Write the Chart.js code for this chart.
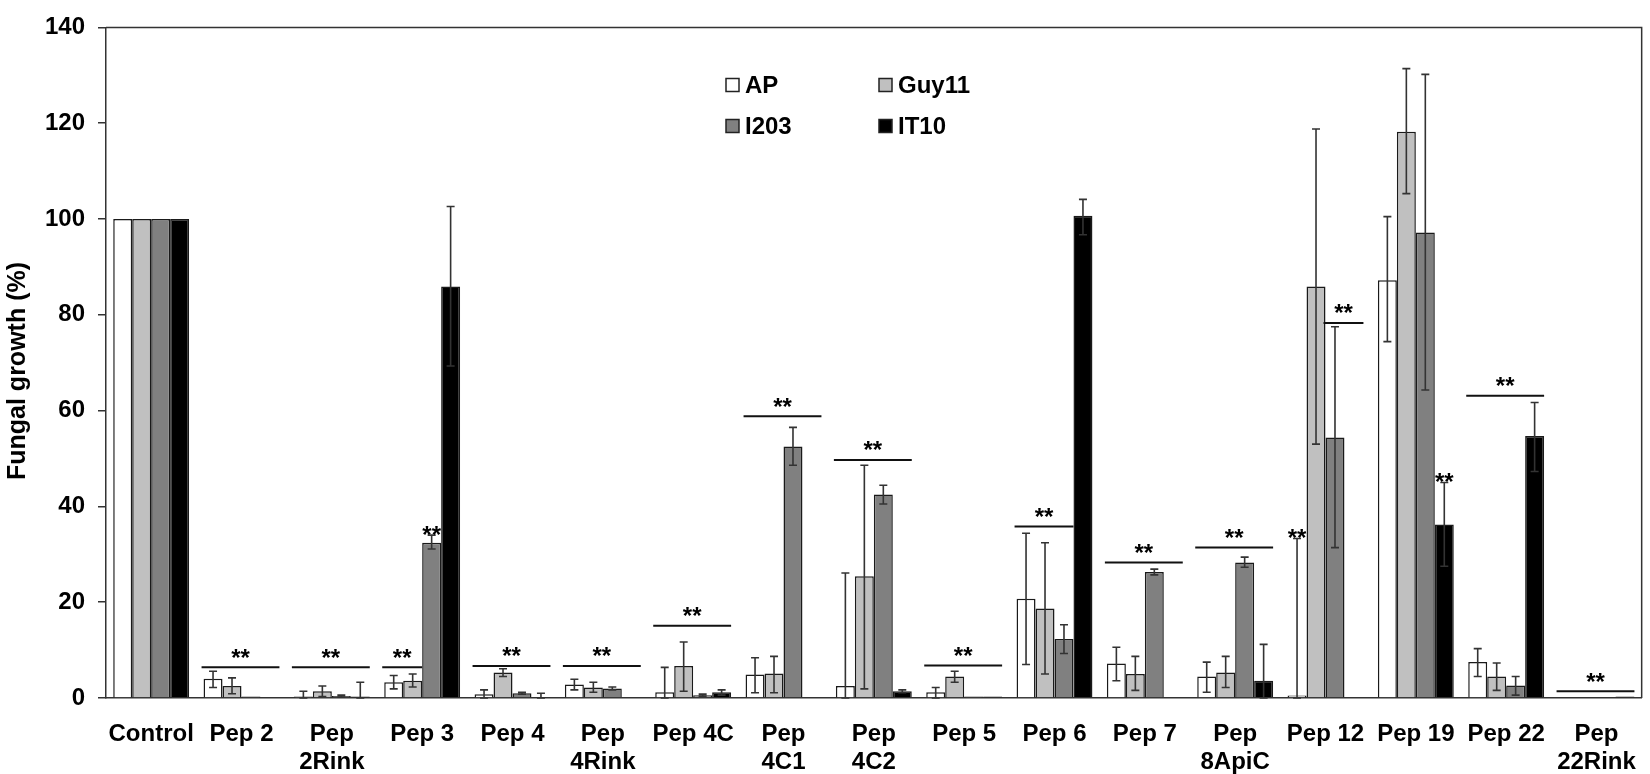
<!DOCTYPE html>
<html>
<head>
<meta charset="utf-8">
<script src="https://cdn.jsdelivr.net/npm/chart.js@4/dist/chart.umd.min.js"></script>
<style>
  body { margin: 0; background: #fff; }
  #wrap { width: 1650px; height: 774px; position: relative; }
</style>
</head>
<body>
<div id="wrap"><canvas id="grafico"></canvas></div>
<script>
// categorias e séries
const categorias = ["Control", "Pep 2", ["Pep", "2Rink"], "Pep 3", "Pep 4", ["Pep", "4Rink"], "Pep 4C",
  ["Pep", "4C1"], ["Pep", "4C2"], "Pep 5", "Pep 6", "Pep 7", ["Pep", "8ApiC"], "Pep 12", "Pep 19", "Pep 22", ["Pep", "22Rink"]]
const series = ["AP", "Guy11", "I203", "IT10"]

const apValores    = [100, 4.0, 0.3, 3.3, 0.8, 2.8, 1.2, 4.9, 2.5, 1.2, 20.7, 7.2, 4.5, 0.5, 87.2, 7.5, 0]
const guyValores   = [100, 2.5, 1.4, 3.6, 5.3, 2.2, 6.7, 5.1, 25.4, 4.5, 18.7, 5.0, 5.3, 85.9, 118.2, 4.5, 0]
const i203Valores  = [100, 0.3, 0.4, 32.4, 1.0, 2.0, 0.6, 52.5, 42.5, 0.3, 12.3, 26.3, 28.3, 54.4, 97.2, 2.6, 0]
const it10Valores  = [100, 0, 0.3, 85.9, 0.1, 0, 1.2, 0, 1.4, 0.3, 100.7, 0, 3.6, 0, 36.2, 54.7, 0.3]

// barras de erro: [mínimo, máximo]
const apErro   = [null, [2.2, 5.6], [0, 1.4], [1.9, 4.7], [0, 1.7], [1.7, 3.9], [0, 6.4], [1.1, 8.4], [0, 26.1],
  [0, 2.2], [7.0, 34.4], [3.6, 10.6], [1.2, 7.5], [0, 33.3], [74.4, 100.5], [4.5, 10.3], null]
const guyErro  = [null, [0.9, 4.2], [0.3, 2.5], [2.3, 5.0], [4.5, 6.1], [1.2, 3.3], [1.4, 11.7], [1.1, 8.7], [1.9, 48.6],
  [3.3, 5.6], [5.0, 32.4], [1.6, 8.7], [2.2, 8.7], [53.0, 118.8], [105.3, 131.4], [1.6, 7.3], null]
const i203Erro = [null, null, [0.2, 0.6], [31.1, 34.0], [0.8, 1.2], [1.7, 2.3], [0.4, 0.8], [48.6, 56.5], [40.5, 44.4],
  null, [9.3, 15.3], [25.7, 26.9], [27.3, 29.4], [31.4, 77.5], [64.3, 130.2], [0.6, 4.5], null]
const it10Erro = [null, null, [0, 3.3], [69.3, 102.6], [0, 1.0], null, [0.6, 1.7], null, [1.1, 1.7],
  null, [96.7, 104.1], null, [0, 11.2], null, [27.5, 45.0], [47.3, 61.7], null]

// linhas de significância: categoria, série inicial, série final, altura
const sigCategoria = [1, 2, 3, 4, 5, 6, 7, 8, 9, 10, 11, 12, 13, 15, 16]
const sigDe        = [0, 0, 0, 0, 0, 0, 0, 0, 0, 0, 0, 0, 2, 0, 0]
const sigAte       = [3, 3, 1, 3, 3, 3, 3, 3, 3, 2, 3, 3, 3, 3, 3]
const sigAltura    = [6.4, 6.4, 6.4, 6.7, 6.7, 15.1, 58.8, 49.7, 6.8, 35.8, 28.3, 31.4, 78.3, 63.1, 1.4]

// asteriscos sozinhos sobre uma barra: categoria, série
const estrelaCategoria = [3, 13, 14]
const estrelaSerie     = [2, 0, 3]

const cores = ["#ffffff", "#c0c0c0", "#808080", "#000000"]
const valores = [apValores, guyValores, i203Valores, it10Valores]
const erros = [apErro, guyErro, i203Erro, it10Erro]

const fonte = '"Liberation Sans", Arial, sans-serif'
Chart.defaults.font.family = fonte
Chart.defaults.color = "#000"

const extras = {
  id: "extras",
  afterDatasetsDraw(chart) {
    const ctx = chart.ctx
    const y = chart.scales.y
    const area = chart.chartArea
    ctx.save()

    // moldura de cima e da direita
    ctx.strokeStyle = "#333"
    ctx.lineWidth = 1.5
    ctx.beginPath()
    ctx.moveTo(area.left, area.top)
    ctx.lineTo(area.right, area.top)
    ctx.lineTo(area.right, area.bottom)
    ctx.stroke()

    // barras de erro
    ctx.strokeStyle = "#333"
    ctx.lineWidth = 1.6
    erros.forEach((lista, i) => {
      const meta = chart.getDatasetMeta(i)
      lista.forEach((e, j) => {
        if (!e) return
        const x = meta.data[j].x
        const y0 = y.getPixelForValue(e[0])
        const y1 = y.getPixelForValue(e[1])
        ctx.beginPath()
        ctx.moveTo(x, y0); ctx.lineTo(x, y1)
        ctx.moveTo(x - 4, y0); ctx.lineTo(x + 4, y0)
        ctx.moveTo(x - 4, y1); ctx.lineTo(x + 4, y1)
        ctx.stroke()
      })
    })

    // linhas de significância
    ctx.fillStyle = "#000"
    ctx.font = "bold 24px " + fonte
    ctx.textAlign = "center"
    ctx.textBaseline = "alphabetic"
    ctx.strokeStyle = "#111"
    ctx.lineWidth = 2
    sigCategoria.forEach((c, k) => {
      const b0 = chart.getDatasetMeta(sigDe[k]).data[c]
      const b1 = chart.getDatasetMeta(sigAte[k]).data[c]
      const x0 = b0.x - b0.width / 2 - 2
      const x1 = b1.x + b1.width / 2
      const yy = y.getPixelForValue(sigAltura[k])
      ctx.beginPath()
      ctx.moveTo(x0, yy); ctx.lineTo(x1, yy)
      ctx.stroke()
      ctx.fillText("**", (x0 + x1) / 2, yy - 1.5)
    })

    estrelaCategoria.forEach((c, k) => {
      const s = estrelaSerie[k]
      const b = chart.getDatasetMeta(s).data[c]
      const e = erros[s][c]
      const topo = y.getPixelForValue(e ? e[1] : valores[s][c])
      ctx.fillText("**", b.x, topo + 8)
    })

    // título do eixo y
    ctx.save()
    ctx.translate(18, 371)
    ctx.rotate(-Math.PI / 2)
    ctx.font = "bold 25px " + fonte
    ctx.textBaseline = "middle"
    ctx.fillText("Fungal growth (%)", 0, 0)
    ctx.restore()

    // legenda em duas colunas
    const legX = [726, 879]
    const legY = [85, 126]
    ctx.font = "bold 24px " + fonte
    ctx.textAlign = "left"
    ctx.textBaseline = "middle"
    series.forEach((nome, i) => {
      const bx = legX[i % 2]
      const by = legY[Math.floor(i / 2)]
      ctx.fillStyle = cores[i]
      ctx.fillRect(bx, by - 6.5, 13, 13)
      ctx.strokeStyle = "#222"
      ctx.lineWidth = 1.5
      ctx.strokeRect(bx, by - 6.5, 13, 13)
      ctx.fillStyle = "#000"
      ctx.fillText(nome, bx + 19, by + 1)
    })
    ctx.restore()
  }
}

new Chart(document.getElementById("grafico"), {
  type: "bar",
  data: {
    labels: categorias,
    datasets: series.map((nome, i) => ({
      label: nome,
      data: valores[i],
      backgroundColor: cores[i],
      borderColor: "#1a1a1a",
      borderWidth: 1.5,
      categoryPercentage: 0.84,
      barPercentage: 1.0
    }))
  },
  options: {
    responsive: true,
    maintainAspectRatio: false,
    animation: false,
    layout: { padding: { top: 17, right: 5, left: 0, bottom: 0 } },
    plugins: { legend: { display: false }, tooltip: { enabled: false } },
    scales: {
      x: {
        grid: { display: false },
        border: { display: true, color: "#333", width: 1.5 },
        ticks: {
          font: { size: 24, weight: "bold", lineHeight: 1.17 },
          color: "#000",
          padding: 14,
          maxRotation: 0,
          autoSkip: false
        },
        afterFit: s => { s.height = 76 }
      },
      y: {
        min: 0,
        max: 140,
        ticks: { stepSize: 20, font: { size: 24, weight: "bold" }, color: "#000", padding: 13 },
        grid: { drawOnChartArea: false, drawTicks: true, tickLength: 8, color: "#333", lineWidth: 1.5 },
        border: { display: true, color: "#333", width: 1.5 },
        afterFit: s => { s.width = 106 }
      }
    }
  },
  plugins: [extras]
})
</script>
</body>
</html>
